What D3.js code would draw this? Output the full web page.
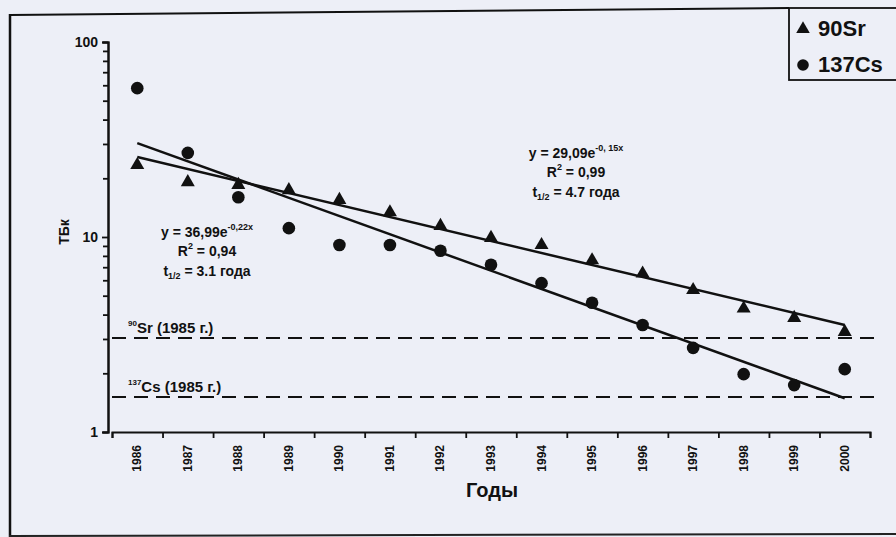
<!DOCTYPE html>
<html>
<head>
<meta charset="utf-8">
<script src="https://cdn.jsdelivr.net/npm/d3@7"></script>
<style>
body { margin: 0; background: #edeff7; }
svg { display: block; font-family: "Liberation Sans", Arial, sans-serif; font-weight: bold; }
</style>
</head>
<body>
<div id="chart"></div>
<script>
// data (ТБк)
var years = [1986, 1987, 1988, 1989, 1990, 1991, 1992, 1993, 1994, 1995, 1996, 1997, 1998, 1999, 2000];
var sr90 = [23.4, 19.1, 18.5, 17.4, 15.5, 13.4, 11.4, 9.9, 9.1, 7.6, 6.5, 5.35, 4.3, 3.85, 3.26];
var cs137 = [58, 27, 16, 11.1, 9.1, 9.1, 8.5, 7.2, 5.8, 4.6, 3.54, 2.7, 1.98, 1.74, 2.1];
// trend line values at first and last year
var srTrend = [25.7, 3.54];
var csTrend = [30.3, 1.49];
// 1985 levels
var srLevel = 3.03;
var csLevel = 1.51;
var yTicks = [1, 10, 100];

var W = 896, H = 537;
var svg = d3.select("#chart").append("svg").attr("width", W).attr("height", H);

// frame of the scanned figure
svg.append("line").attr("x1", 10).attr("y1", 15).attr("x2", 789).attr("y2", 8).attr("stroke", "#111").attr("stroke-width", 2);
svg.append("line").attr("x1", 10).attr("y1", 14).attr("x2", 10).attr("y2", 537).attr("stroke", "#111").attr("stroke-width", 2.5);
svg.append("line").attr("x1", 9).attr("y1", 536).attr("x2", 896).attr("y2", 534).attr("stroke", "#222").attr("stroke-width", 2);

var x = d3.scaleBand().domain(years).range([112, 870]);
var xb = d3.scaleLinear().domain([0, years.length]).range([112, 870]);
var y = d3.scaleLog().domain([1, 100]).range([432, 42]);
var cx = function(d) { return x(d) + x.bandwidth() / 2; };

// y axis with minor ticks
var minor = [];
[1, 10].forEach(function(b) { for (var k = 2; k <= 9; k++) minor.push(b * k); });
var gy = svg.append("g").attr("transform", "translate(108,0)");
gy.call(d3.axisLeft(y).tickValues(minor).tickSize(5).tickFormat(""));
gy.append("g").call(d3.axisLeft(y).tickValues(yTicks).tickSize(6).tickFormat(d3.format("d")));
gy.selectAll("path").attr("stroke", "#111").attr("stroke-width", 2);
gy.selectAll("line").attr("stroke", "#111").attr("stroke-width", 1.8);
gy.selectAll("text").attr("fill", "#111").style("font-size", "14px").style("font-weight", "bold").attr("x", -10);

// x axis: ticks at band boundaries, labels rotated
var gx = svg.append("g").attr("transform", "translate(0,432)");
gx.call(d3.axisBottom(xb).ticks(15).tickSize(6).tickFormat(""));
gx.selectAll("path").attr("stroke", "#111").attr("stroke-width", 2);
gx.selectAll("line").attr("stroke", "#111").attr("stroke-width", 1.8);
svg.selectAll(".yl").data(years).enter().append("text")
  .attr("class", "yl")
  .attr("transform", function(d) { return "translate(" + (cx(d) + 4) + ",445) rotate(-90)"; })
  .attr("text-anchor", "end")
  .attr("fill", "#111")
  .style("font-size", "12px")
  .text(function(d) { return d; });

svg.append("text").attr("x", 492).attr("y", 497).attr("text-anchor", "middle")
  .style("font-size", "20px").attr("fill", "#111").text("Годы");
svg.append("text").attr("transform", "translate(69,232) rotate(-90)").attr("text-anchor", "middle")
  .style("font-size", "14px").attr("fill", "#111").text("ТБк");

// 1985 reference levels
[srLevel, csLevel].forEach(function(v) {
  svg.append("line").attr("x1", 112).attr("x2", 877).attr("y1", y(v)).attr("y2", y(v))
    .attr("stroke", "#111").attr("stroke-width", 2).attr("stroke-dasharray", "14,8");
});
function isoLabel(mass, el, v) {
  var t = svg.append("text").attr("x", 128).attr("y", y(v) - 5).attr("fill", "#111").style("font-size", "15px");
  t.append("tspan").style("font-size", "8px").attr("dy", -7).text(mass);
  t.append("tspan").attr("dy", 7).text(el + " (1985 г.)");
}
isoLabel("90", "Sr", srLevel);
isoLabel("137", "Cs", csLevel);

// trend lines
var first = years[0], last = years[years.length - 1];
[srTrend, csTrend].forEach(function(t) {
  svg.append("line").attr("x1", cx(first)).attr("y1", y(t[0])).attr("x2", cx(last)).attr("y2", y(t[1]))
    .attr("stroke", "#111").attr("stroke-width", 2.5);
});

// markers
svg.selectAll(".sr").data(years).enter().append("path")
  .attr("d", d3.symbol().type(d3.symbolTriangle).size(85))
  .attr("transform", function(d, i) { return "translate(" + cx(d) + "," + y(sr90[i]) + ")"; })
  .attr("fill", "#111");
svg.selectAll(".cs").data(years).enter().append("circle")
  .attr("cx", function(d) { return cx(d); })
  .attr("cy", function(d, i) { return y(cs137[i]); })
  .attr("r", 6.3).attr("fill", "#111");

// equations
function eqn(xc, y0, a, k, r2, half, anchor) {
  var t1 = svg.append("text").attr("x", xc).attr("y", y0).attr("text-anchor", anchor).attr("fill", "#111").style("font-size", "14px");
  t1.append("tspan").text("y = " + a + "e");
  t1.append("tspan").style("font-size", "9px").attr("dy", -7).text(k);
  var t2 = svg.append("text").attr("x", xc).attr("y", y0 + 19).attr("text-anchor", anchor).attr("fill", "#111").style("font-size", "14px");
  t2.append("tspan").text("R");
  t2.append("tspan").style("font-size", "9px").attr("dy", -7).text("2");
  t2.append("tspan").attr("dy", 7).text(" = " + r2);
  var t3 = svg.append("text").attr("x", xc).attr("y", y0 + 39).attr("text-anchor", anchor).attr("fill", "#111").style("font-size", "14px");
  t3.append("tspan").text("t");
  t3.append("tspan").style("font-size", "9px").attr("dy", 3).text("1/2");
  t3.append("tspan").attr("dy", -3).text(" = " + half + " года");
}
eqn(207, 237, "36,99", "-0,22x", "0,94", "3.1", "middle");
eqn(576, 158, "29,09", "-0, 15x", "0,99", "4.7", "middle");

// legend
svg.append("rect").attr("x", 789).attr("y", 8).attr("width", 120).attr("height", 72)
  .attr("fill", "#edeff7").attr("stroke", "#111").attr("stroke-width", 1.8);
svg.append("path").attr("d", d3.symbol().type(d3.symbolTriangle).size(80))
  .attr("transform", "translate(803,29)").attr("fill", "#111");
svg.append("circle").attr("cx", 803).attr("cy", 65).attr("r", 5.8).attr("fill", "#111");
svg.append("text").attr("x", 818).attr("y", 36).style("font-size", "22px").attr("fill", "#111").text("90Sr");
svg.append("text").attr("x", 818).attr("y", 72).style("font-size", "22px").attr("fill", "#111").text("137Cs");
</script>
</body>
</html>
